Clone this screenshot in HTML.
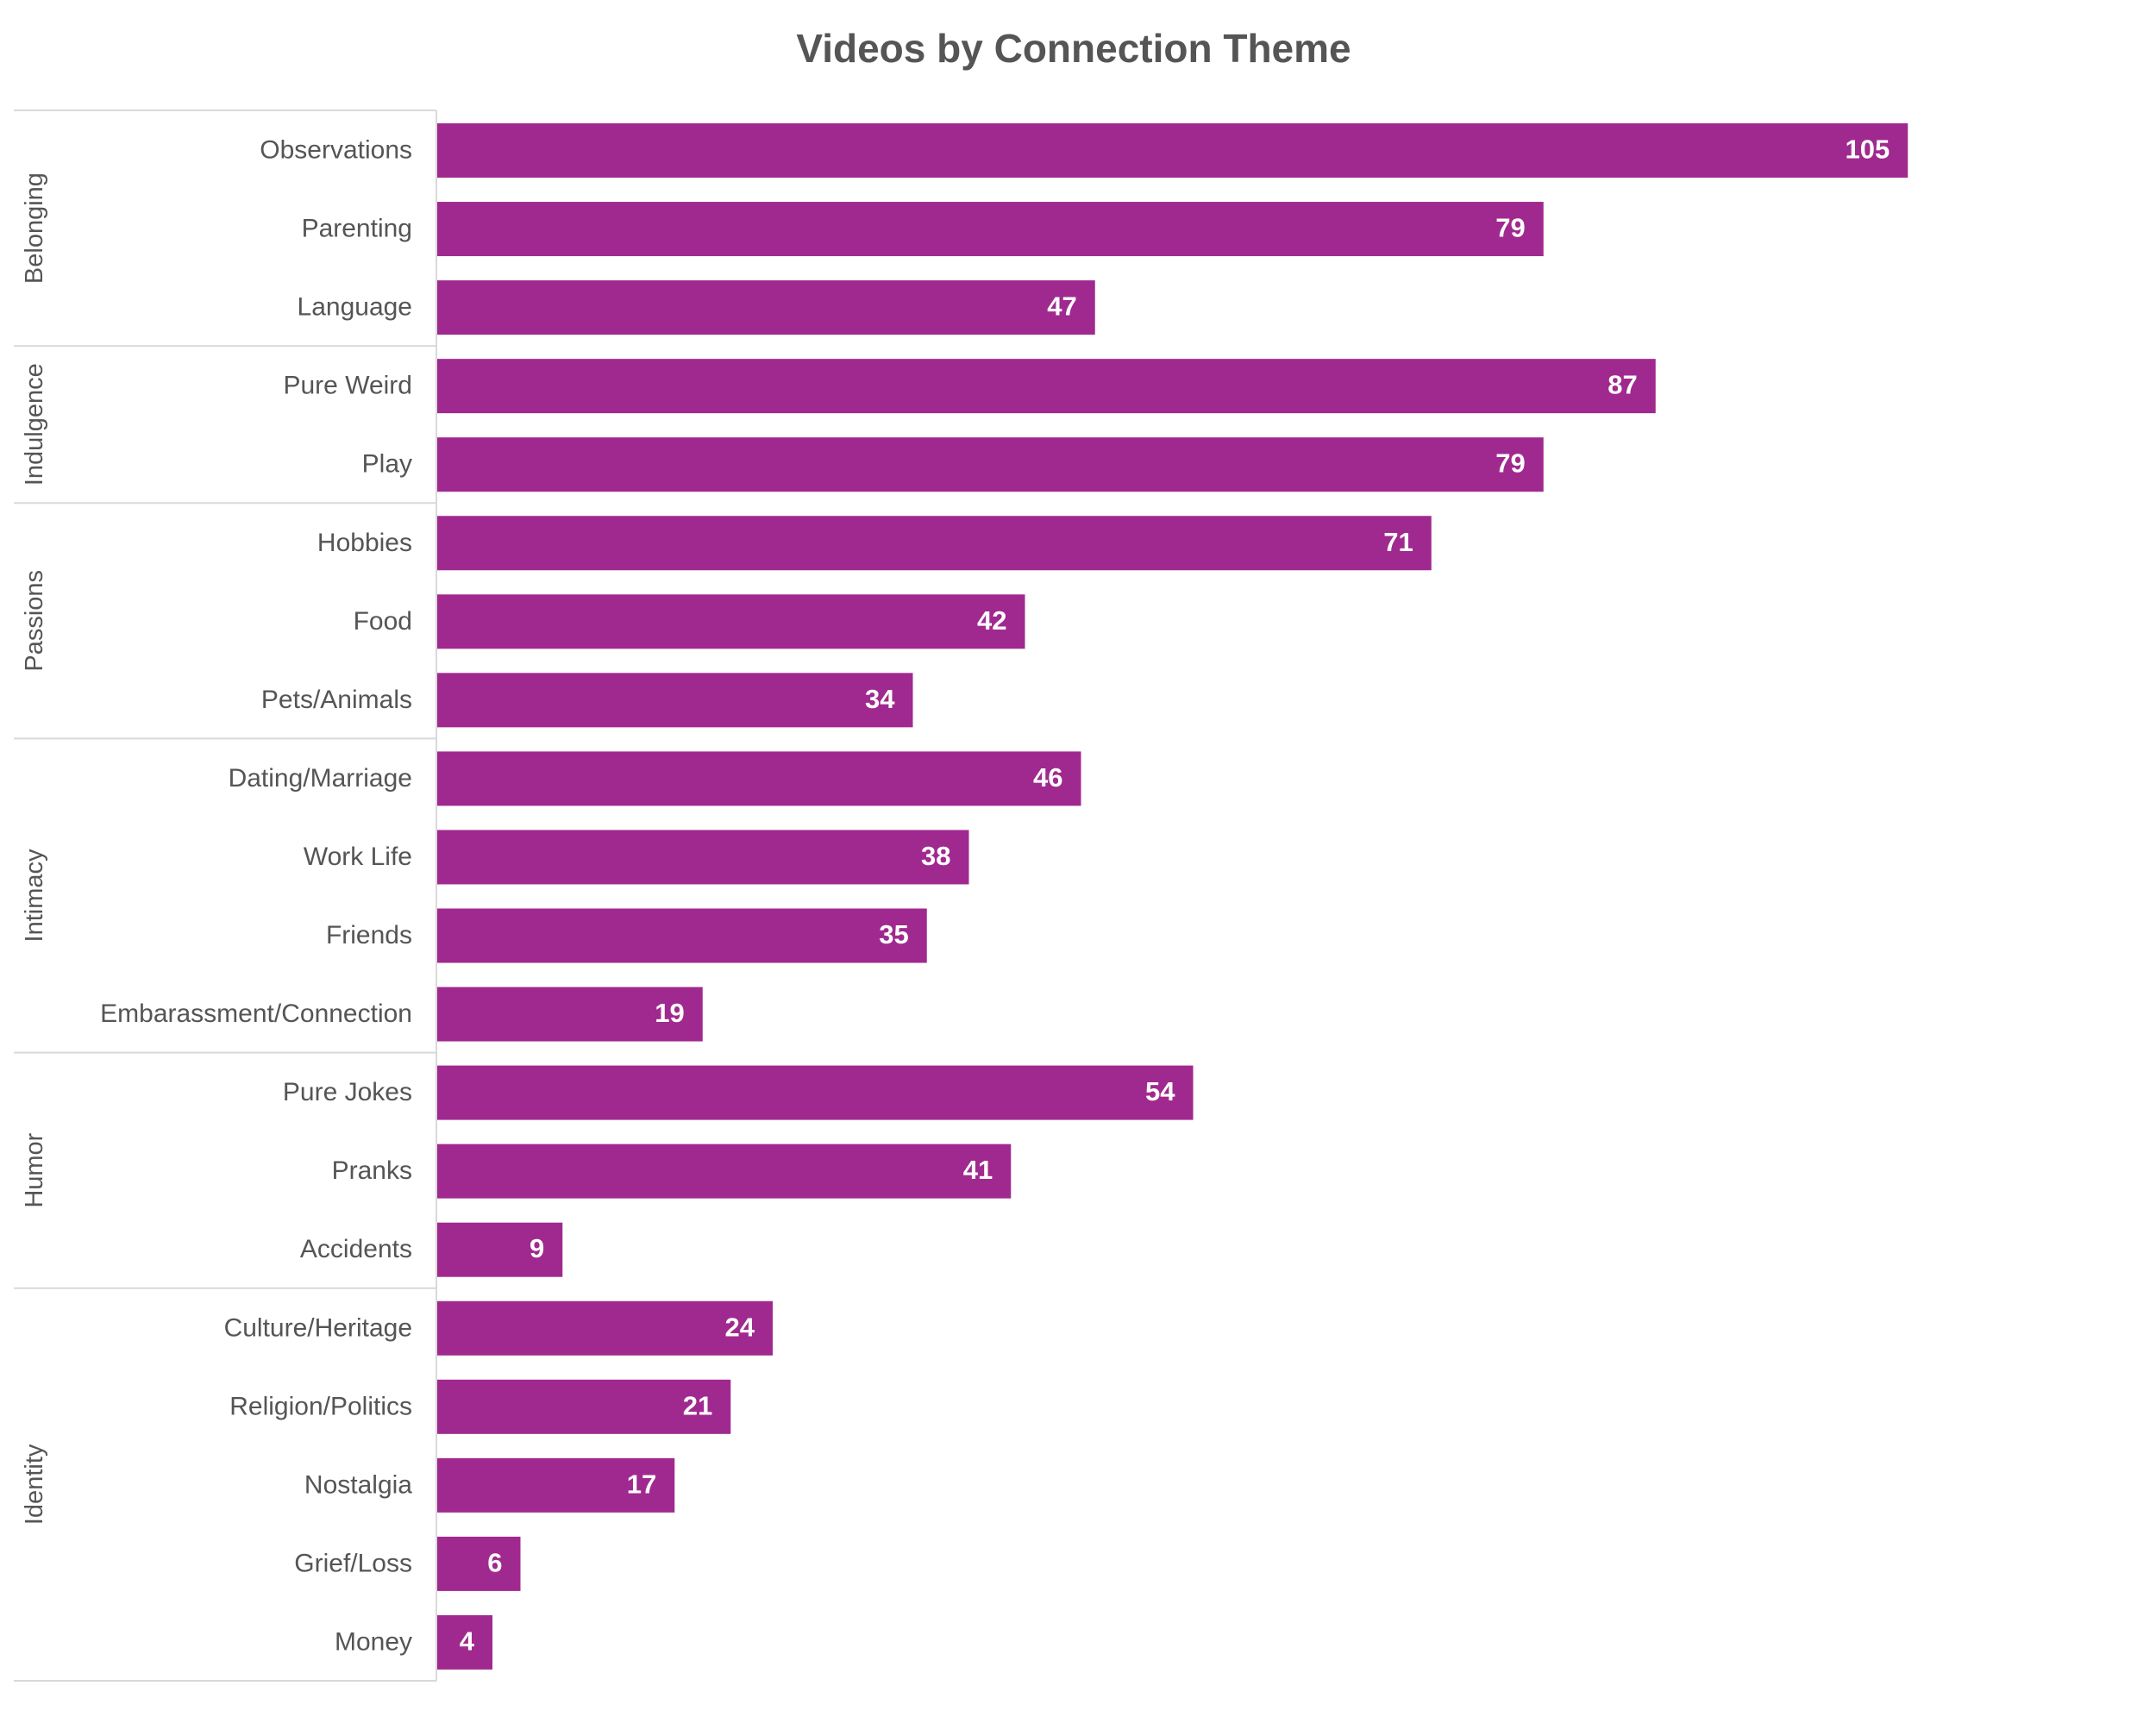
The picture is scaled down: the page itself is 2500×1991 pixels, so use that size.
<!DOCTYPE html>
<html><head><meta charset="utf-8"><style>
html,body{margin:0;padding:0;background:#fff;}
svg{display:block;font-family:"Liberation Sans",sans-serif;}
</style></head><body>
<svg id="chart" width="2500" height="1991" viewBox="0 0 2500 1991" xmlns="http://www.w3.org/2000/svg">
<text x="1245" y="72" text-anchor="middle" font-size="46" font-weight="bold" fill="#555">Videos by Connection Theme</text>
<g id="plot"></g>
</svg>
<script>
const categories = ["Observations","Parenting","Language","Pure Weird","Play","Hobbies","Food","Pets/Animals","Dating/Marriage","Work Life","Friends","Embarassment/Connection","Pure Jokes","Pranks","Accidents","Culture/Heritage","Religion/Politics","Nostalgia","Grief/Loss","Money"];
const values = [105,79,47,87,79,71,42,34,46,38,35,19,54,41,9,24,21,17,6,4];
const groupNames = ["Belonging","Indulgence","Passions","Intimacy","Humor","Identity"];
const groupSizes = [3,2,3,4,3,5];

const NS = "http://www.w3.org/2000/svg";
const plotG = document.getElementById("plot");
const x0 = 506, kx = 16.25, yTop = 128, yBottom = 1949;
const band = (yBottom - yTop) / categories.length;
const barH = 63, barOff = 15;
function xScale(v){ return x0 + v * kx; }
function yBand(i){ return yTop + i * band; }
function mk(tag, attrs){ const e = document.createElementNS(NS, tag); for (const k in attrs) e.setAttribute(k, attrs[k]); plotG.appendChild(e); return e; }

categories.forEach((c, i) => {
  const y = yBand(i) + barOff;
  const r = mk("rect", {x: x0, y: y, width: xScale(values[i]) - x0, height: barH, fill: "#A0298F"});
  
  
  const lab = mk("text", {x: 478, y: y + barH/2 + 9, "text-anchor": "end", "font-size": 30, fill: "#555"});
  lab.textContent = c;
  
  
  const vl = mk("text", {x: xScale(values[i]) - 21, y: y + barH/2 + 9, "text-anchor": "end", "font-size": 31, "font-weight": "bold", fill: "#fff"});
  vl.textContent = values[i];
  
  
});

let idx = 0;
const l0 = mk("line", {x1: 16, x2: x0, y1: yTop, y2: yTop, stroke: "#d9d9d9", "stroke-width": 2});


groupNames.forEach((name, gi) => {
  const yS = yBand(idx), yE = yBand(idx + groupSizes[gi]);
  idx += groupSizes[gi];
  const ln = mk("line", {x1: 16, x2: x0, y1: yE, y2: yE, stroke: "#d9d9d9", "stroke-width": 2});
  
  
  const cy = (yS + yE) / 2;
  const t = mk("text", {x: 0, y: 0, transform: "translate(49," + cy + ") rotate(-90)", "text-anchor": "middle", "font-size": 29, fill: "#555"});
  t.textContent = name;
  
  
});
const ax = mk("line", {x1: x0, x2: x0, y1: yTop, y2: yBottom, stroke: "#d9d9d9", "stroke-width": 2});


</script>
</body></html>
